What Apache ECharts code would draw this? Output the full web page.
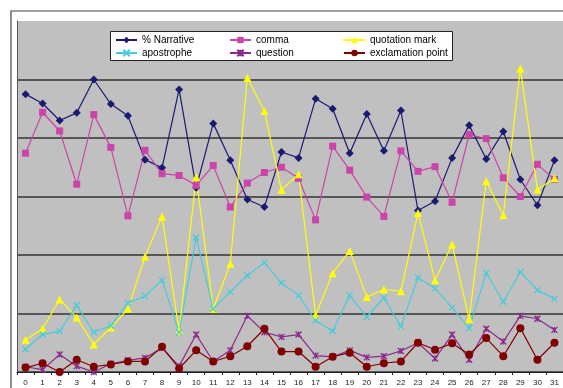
<!DOCTYPE html>
<html><head><meta charset="utf-8">
<script src="https://cdn.jsdelivr.net/npm/echarts@6/dist/echarts.min.js"></script>
<style>html,body{margin:0;padding:0;background:#fff}#c{width:563px;height:388px}</style>
</head><body><div id="c"></div>
<script>
const categories = ['0','1','2','3','4','5','6','7','8','9','10','11','12','13','14','15','16','17','18','19','20','21','22','23','24','25','26','27','28','29','30','31'];
const narrative = [47.5,45.9,43.0,44.3,50.0,45.8,43.8,36.3,34.9,48.3,31.5,42.5,36.2,29.5,28.2,37.6,36.6,46.7,45.0,37.4,44.1,37.8,44.7,27.6,29.2,36.6,42.2,36.4,41.1,32.9,28.5,36.2];
const comma = [37.4,44.4,41.2,32.1,44.0,38.4,26.7,37.9,33.9,33.6,31.9,35.3,28.2,32.3,34.1,35.0,33.1,26.0,38.6,34.5,29.9,26.6,37.8,34.3,35.1,29.0,40.6,39.9,33.2,30.0,35.5,32.9];
const quotation = [5.5,7.4,12.4,9.3,4.7,7.6,10.8,19.7,26.6,7.0,33.3,10.8,18.5,50.3,44.6,31.1,33.8,9.7,16.9,20.7,12.8,14.1,13.8,27.2,15.7,21.8,9.0,32.6,26.8,51.9,31.2,33.1];
const apostrophe = [3.9,6.4,7.0,11.4,6.8,7.9,11.8,13.0,15.7,6.8,23.0,10.8,13.7,16.5,18.7,15.2,13.1,8.8,7.0,13.1,9.4,12.7,7.8,16.1,14.3,11.0,7.5,16.9,12.0,17.1,14.0,12.5];
const question = [0.9,0.4,3.0,1.0,0.0,1.4,2.0,2.4,4.1,1.0,6.4,1.8,3.7,9.6,6.8,6.0,6.4,2.8,2.6,3.7,2.5,2.7,3.6,5.0,2.3,6.4,2.1,7.4,5.2,9.6,9.1,7.2];
const exclamation = [0.75,1.5,0.0,2.1,0.9,1.3,1.8,1.8,4.3,0.6,3.7,1.8,2.7,4.4,7.4,3.5,3.5,0.9,2.6,3.3,0.9,1.5,1.8,5.0,3.8,4.9,3.0,5.8,2.7,7.5,2.1,5.0];
const names = ['% Narrative','comma','quotation mark','apostrophe','question','exclamation point'];

const xPath = 'path://M0,0L10,10M10,0L0,10';
const astPath = 'path://M0,0L10,10M10,0L0,10M5,0L5,10';
function ser(name, data, color, symbol, size, stroke) {
  return {
    name, type: 'line', data, symbol, symbolSize: size,
    lineStyle: { color, width: 1.2 },
    itemStyle: { color, borderColor: color, borderWidth: stroke ? 1.3 : 0 },
    emphasis: { disabled: true }, animation: false
  };
}
const chart = echarts.init(document.getElementById('c'));
const legendText = { fontFamily: 'Liberation Sans, Arial, sans-serif', fontSize: 10, color: '#000' };
const legBase = { orient: 'vertical', top: 35, itemWidth: 21, itemHeight: 8, itemGap: 3, textStyle: legendText, padding: 0, selectedMode: false };
chart.setOption({
  animation: false,
  graphic: [
    { type: 'rect', shape: { x: 11, y: 11, width: 620, height: 420 }, style: { fill: 'none', stroke: '#444', lineWidth: 1.2 }, z: 0 },
    { type: 'rect', shape: { x: 110.5, y: 31.5, width: 342, height: 29 }, style: { fill: '#fff', stroke: '#222', lineWidth: 1 }, z: 10 }
  ],
  legend: [
    Object.assign({ left: 115, data: [names[0], names[3]] }, legBase, { z: 20 }),
    Object.assign({ left: 229, data: [names[1], names[4]] }, legBase, { z: 20 }),
    Object.assign({ left: 343, data: [names[2], names[5]] }, legBase, { z: 20 })
  ],
  grid: { left: 17, top: 21, width: 555, height: 351, show: true, backgroundColor: '#c0c0c0', borderWidth: 0 },
  xAxis: {
    type: 'category', data: categories, boundaryGap: true,
    axisLine: { lineStyle: { color: '#222', width: 1 } },
    axisTick: { show: true, length: 3, lineStyle: { color: '#222' } },
    axisLabel: { fontFamily: 'Liberation Sans, Arial, sans-serif', fontSize: 8, color: '#222', margin: 7, interval: 0 }
  },
  yAxis: {
    type: 'value', min: 0, max: 60, interval: 10,
    axisLine: { show: true, lineStyle: { color: '#555', width: 1 } },
    axisTick: { show: false }, axisLabel: { show: false },
    splitLine: { show: true, showMaxLine: false, lineStyle: { color: '#333', width: 1.5 } }
  },
  series: [
    ser(names[0], narrative, '#1a1a70', 'diamond', 8, false),
    ser(names[1], comma, '#cc44aa', 'rect', 7, false),
    ser(names[2], quotation, '#ffff00', 'triangle', 8, false),
    ser(names[3], apostrophe, '#44ccdd', xPath, 6, true),
    ser(names[4], question, '#8a2a8a', astPath, 6, true),
    ser(names[5], exclamation, '#800000', 'circle', 8, false)
  ]
});
</script></body></html>
